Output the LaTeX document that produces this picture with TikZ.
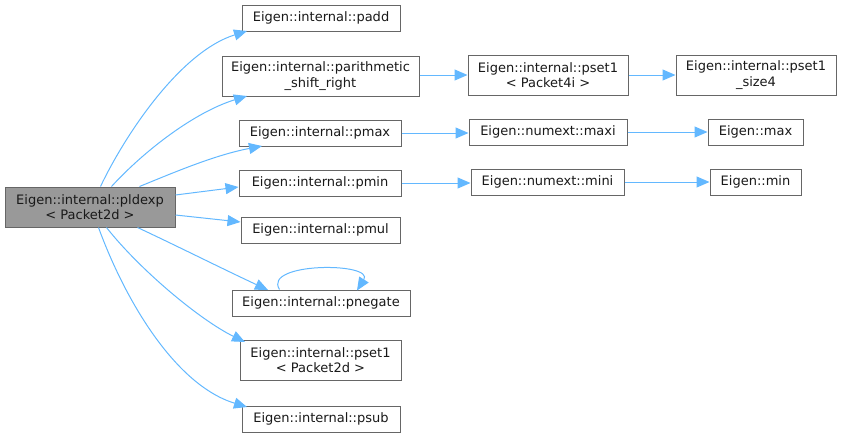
\documentclass[tikz,border=0pt]{standalone}
\usepackage{fontspec}
\setmainfont{DejaVu Sans}
\usetikzlibrary{arrows.meta}
\definecolor{edgec}{HTML}{63B8FF}
\definecolor{boxb}{HTML}{666666}
\definecolor{rootf}{HTML}{999999}
\begin{document}
\begin{tikzpicture}[x=1pt,y=-1pt,
  fn/.style={draw=boxb,line width=1pt,fill=white,inner sep=0pt,font=\fontsize{13}{15.5}\selectfont,align=center,text=black!90},
  rootbox/.style={fn,fill=rootf},
  call/.style={draw=edgec,line width=1pt,-{Triangle[length=13pt,width=11pt]}}]
\useasboundingbox (0,0) rectangle (841,437);
\node[rootbox,minimum width=170pt,minimum height=40pt] (root) at (90,207) {Eigen::internal::pldexp\\< Packet2d >};
\node[fn,minimum width=158pt,minimum height=26pt] (padd) at (321,18) {Eigen::internal::padd};
\node[fn,minimum width=197pt,minimum height=40pt] (parith) at (320.5,76) {Eigen::internal::parithmetic\\\_shift\_right};
\node[fn,minimum width=162pt,minimum height=26pt] (pmax) at (320,133) {Eigen::internal::pmax};
\node[fn,minimum width=162pt,minimum height=26pt] (pmin) at (320,183) {Eigen::internal::pmin};
\node[fn,minimum width=159pt,minimum height=26pt] (pmul) at (320.5,230) {Eigen::internal::pmul};
\node[fn,minimum width=178pt,minimum height=26pt] (pneg) at (321,303) {Eigen::internal::pnegate};
\node[fn,minimum width=161pt,minimum height=40pt] (pset2d) at (320.5,360) {Eigen::internal::pset1\\< Packet2d >};
\node[fn,minimum width=158pt,minimum height=26pt] (psub) at (321,419) {Eigen::internal::psub};
\node[fn,minimum width=160pt,minimum height=40pt] (pset4i) at (548,75) {Eigen::internal::pset1\\< Packet4i >};
\node[fn,minimum width=160pt,minimum height=40pt] (size4) at (756,75) {Eigen::internal::pset1\\\_size4};
\node[fn,minimum width=158pt,minimum height=26pt] (maxi) at (548,132) {Eigen::numext::maxi};
\node[fn,minimum width=95pt,minimum height=26pt] (emax) at (755.5,132) {Eigen::max};
\node[fn,minimum width=153pt,minimum height=26pt] (mini) at (547.5,182) {Eigen::numext::mini};
\node[fn,minimum width=91pt,minimum height=26pt] (emin) at (755.5,182) {Eigen::min};
% edges
\draw[call] (root.north west) ++(96,0) .. controls (125,135) and (180,52) .. (247,31);
\draw[call] (root.north west) ++(107,0) .. controls (145,150) and (195,112) .. (247,96);
\draw[call] (root.north west) ++(135,0) .. controls (175,172) and (215,155) .. (262,146);
\draw[call] (root.east |- 0,195) -- (pmin.west |- 0,187);
\draw[call] (root.east |- 0,215) -- (pmul.west |- 0,222);
\draw[call] (root.south west) ++(133,0) .. controls (175,245) and (225,270) .. (268,290);
\draw[call] (root.south west) ++(102,0) .. controls (140,270) and (200,320) .. (245,342);
\draw[call] (root.south west) ++(94,0) .. controls (125,300) and (175,385) .. (247,407);
\draw[call] (pneg.north west) ++(48,0) .. controls (262,262) and (375,262) .. (357,290.5);
\draw[call] (parith.east |- 0,75) -- (pset4i.west |- 0,75);
\draw[call] (pset4i.east |- 0,75) -- (size4.west |- 0,75);
\draw[call] (pmax.east |- 0,133) -- (maxi.west |- 0,133);
\draw[call] (maxi.east |- 0,132) -- (emax.west |- 0,132);
\draw[call] (pmin.east |- 0,183) -- (mini.west |- 0,183);
\draw[call] (mini.east |- 0,182) -- (emin.west |- 0,182);
\end{tikzpicture}
\end{document}
